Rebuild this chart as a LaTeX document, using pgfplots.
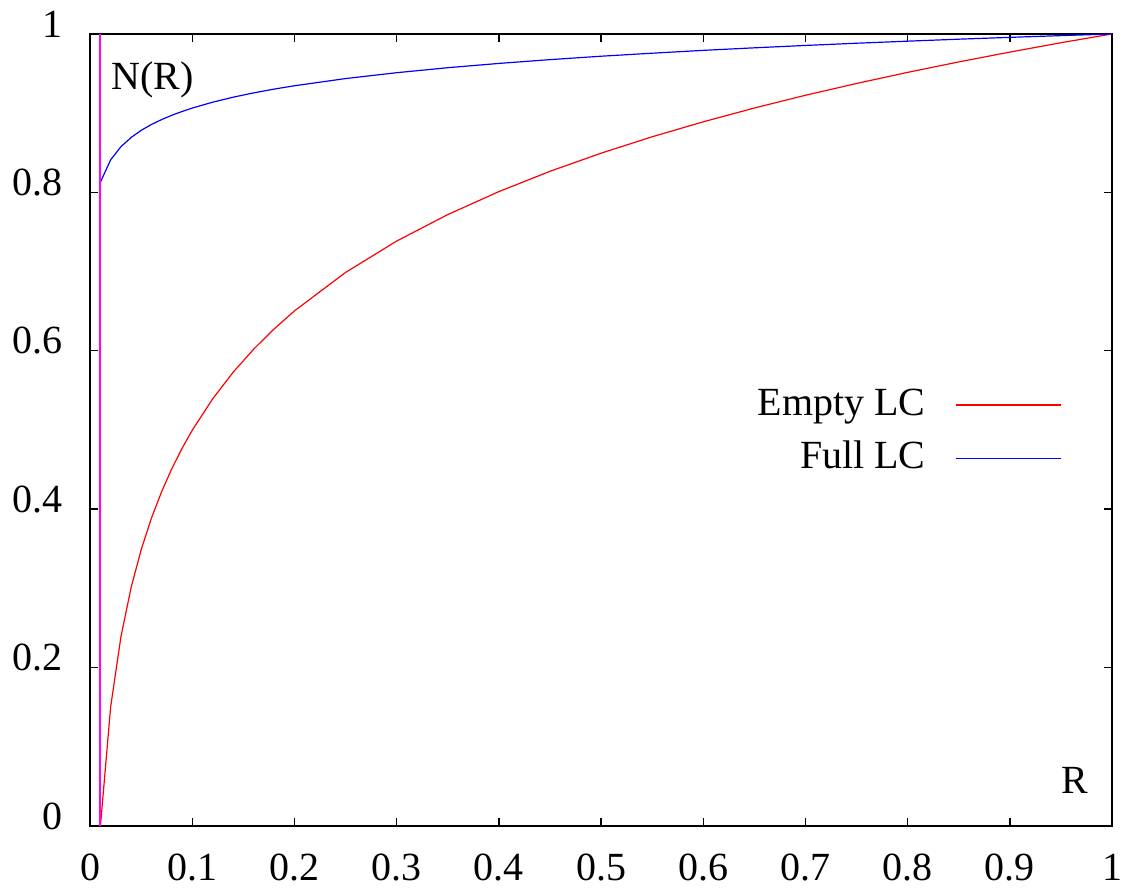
\documentclass[border=0pt]{standalone}
\usepackage{fontspec}
\setmainfont{Liberation Serif}
\usepackage{pgfplots}
\pgfplotsset{compat=1.18}
\definecolor{gpred}{RGB}{255,0,0}
\definecolor{gpblue}{RGB}{0,0,255}
\definecolor{gpmag}{RGB}{255,0,255}
\begin{document}
\fontsize{20}{24}\selectfont
\begin{tikzpicture}
\begin{axis}[
  width=511.5pt, height=396.5pt, scale only axis,
  xmin=0, xmax=1, ymin=0, ymax=1,
  xtick={0,0.1,0.2,0.3,0.4,0.5,0.6,0.7,0.8,0.9,1},
  ytick={0,0.2,0.4,0.6,0.8,1},
  xticklabels={0,0.1,0.2,0.3,0.4,0.5,0.6,0.7,0.8,0.9,1},
  yticklabels={0,0.2,0.4,0.6,0.8,1},
  tick align=inside, major tick length=4pt,
  tick style={black, line width=0.7pt},
  axis line style={black, line width=0.8pt},
  /pgf/number format/assume math mode=true,
  ticklabel style={font=\fontsize{20}{24}\selectfont, inner sep=0pt},
  yticklabel style={anchor=east, xshift=-13.5pt, yshift=5pt},
  xticklabel style={anchor=north, yshift=-14pt},
  clip=false,
  legend plot pos=right,
  legend cell align=right,
  legend style={draw=none, fill=none, font=\fontsize{20}{24}\selectfont,
    at={(rel axis cs:0.951,0.5575)}, anchor=north east,
    row sep=6pt, inner sep=0pt},
  legend image code/.code={\path (0pt,0pt); \draw[#1] (13pt,0pt) -- (65.5pt,0pt);},
]
\path (rel axis cs:-0.0883,-0.082) rectangle (rel axis cs:1.0095,1.0429);
\addplot[gpred, line width=0.6pt] coordinates {
(0.01,0) (0.02,0.1505) (0.03,0.2386) (0.04,0.3010) (0.05,0.3495)
(0.06,0.3891) (0.07,0.4225) (0.08,0.4515) (0.09,0.4771) (0.10,0.5)
(0.12,0.5396) (0.14,0.5731) (0.16,0.6021) (0.18,0.6276) (0.20,0.6505)
(0.25,0.6990) (0.30,0.7386) (0.35,0.7720) (0.40,0.8010) (0.45,0.8266)
(0.50,0.8495) (0.55,0.8702) (0.60,0.8891) (0.65,0.9065) (0.70,0.9226)
(0.75,0.9375) (0.80,0.9515) (0.85,0.9647) (0.90,0.9771) (0.95,0.9889)
(1.00,1)
};
\addlegendentry{Empty LC}
\addplot[gpblue, line width=0.6pt] coordinates {
(0.01,0.813) (0.02,0.8411) (0.03,0.8576) (0.04,0.8693) (0.05,0.8784)
(0.06,0.8858) (0.07,0.8920) (0.08,0.8974) (0.09,0.9022) (0.10,0.9065)
(0.12,0.9139) (0.14,0.9202) (0.16,0.9256) (0.18,0.9304) (0.20,0.9346)
(0.25,0.9437) (0.30,0.9511) (0.35,0.9574) (0.40,0.9628) (0.45,0.9676)
(0.50,0.9719) (0.55,0.9757) (0.60,0.9793) (0.65,0.9825) (0.70,0.9855)
(0.75,0.9883) (0.80,0.9909) (0.85,0.9934) (0.90,0.9957) (0.95,0.9979)
(1.00,1)
};
\addlegendentry{Full LC}
\addplot[gpmag, line width=0.7pt, forget plot] coordinates {(0.0095,0) (0.0095,1)};
\node[inner sep=0pt] at (axis cs:0.0608,0.942) {N(R)};
\node[inner sep=0pt] at (axis cs:0.9635,0.058) {R};
\end{axis}
\end{tikzpicture}
\end{document}
